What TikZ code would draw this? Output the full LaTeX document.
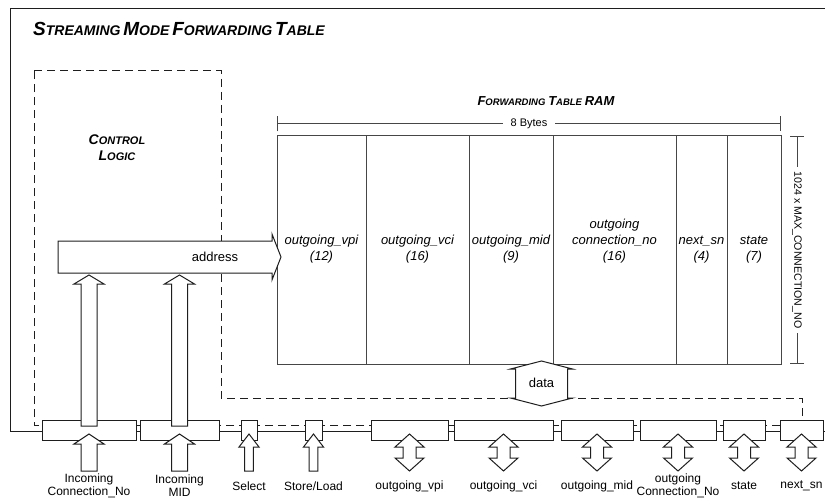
\documentclass[tikz,border=0pt]{standalone}
\usepackage{fontspec}
\setmainfont{Liberation Sans}
\usetikzlibrary{arrows.meta,positioning,calc}
\definecolor{LineDark}{RGB}{30,30,30}
\definecolor{LineGray}{RGB}{70,70,70}
\newcommand{\fakesc}[4]{{\fontsize{#1}{#1}\selectfont #3}{\fontsize{#2}{#2}\selectfont #4}}
\tikzset{
  frame/.style={draw=LineDark, line width=1pt},
  region/.style={draw=LineDark, line width=1pt, dash pattern=on 8pt off 5pt},
  reg/.style={draw=LineDark, fill=white, line width=1pt, minimum height=20pt,
              inner sep=0pt, outer sep=0pt},
  ramcol/.style={draw=LineGray, line width=1pt, minimum height=228pt,
                 inner sep=0pt, outer sep=0pt},
  coltext/.style={font=\fontsize{13}{16}\selectfont\itshape, align=center,
                  inner sep=0pt, anchor=south},
  heading/.style={font=\bfseries\itshape, inner sep=0pt},
  blk/.style={draw=LineDark, fill=white, line width=1pt, line join=miter},
  pinlabel/.style={font=\fontsize{12}{13}\selectfont, align=center, inner sep=0pt},
  dim/.style={draw=LineGray, line width=1pt},
  pics/uparrow/.style args={#1/#2/#3/#4}{code={
    \draw[blk] (0,0) -- (#3,#4) -- (#2,#4) -- (#2,#1) -- (-#2,#1) -- (-#2,#4)
      -- (-#3,#4) -- cycle;}},
  pics/dblarrow/.style args={#1/#2/#3/#4}{code={
    \draw[blk] (0,0) -- (#3,#4) -- (#2,#4) -- (#2,#1-#4) -- (#3,#1-#4) -- (0,#1)
      -- (-#3,#1-#4) -- (-#2,#1-#4) -- (-#2,#4) -- (-#3,#4) -- cycle;}},
}
\begin{document}
\begin{tikzpicture}[x=1pt, y=-1pt]
  \useasboundingbox (0,0) rectangle (825,500);

  % Frame and control region
  \draw[frame] (825,9) -- (10,9) -- (10,431) -- (825,431);
  \draw[region] (34,71) -- (221,71) -- (221,398) -- (802,398) -- (802,425)
    -- (34,425) -- cycle;
  \node[heading, anchor=base west] (title) at (33,36)
    {\fakesc{19}{14}{S}{TREAMING} \fakesc{19}{14}{M}{ODE} \fakesc{19}{14}{F}{ORWARDING} \fakesc{19}{14}{T}{ABLE}};
  \node[heading, align=center, font=\fontsize{14}{16}\selectfont\bfseries\itshape] (ctrl) at (117,148)
    {\fakesc{14}{11}{C}{ONTROL}\\\fakesc{14}{11}{L}{OGIC}};

  % Forwarding table RAM
  \node[heading, anchor=base] (ramtitle) at (546,106)
    {\fakesc{13}{9.5}{F}{ORWARDING} \fakesc{13}{9.5}{T}{ABLE} \fakesc{13}{13}{RAM}{}};
  \node[ramcol, minimum width=89pt, anchor=north west] (cvpi) at (277,136) {};
  \node[ramcol, minimum width=103pt, right=0pt of cvpi] (cvci) {};
  \node[ramcol, minimum width=84pt, right=0pt of cvci] (cmid) {};
  \node[ramcol, minimum width=123pt, right=0pt of cmid] (cconn) {};
  \node[ramcol, minimum width=51pt, right=0pt of cconn] (cnsn) {};
  \node[ramcol, minimum width=54pt, right=0pt of cnsn] (cstate) {};
  \node[coltext] (tvpi) at ($(cvpi.center)+(0,13)$) {outgoing\_vpi\\(12)};
  \node[coltext] (tvci) at ($(cvci.center)+(0,13)$) {outgoing\_vci\\(16)};
  \node[coltext] (tmid) at ($(cmid.center)+(0,13)$) {outgoing\_mid\\(9)};
  \node[coltext] (tconn) at ($(cconn.center)+(0,13)$) {outgoing\\connection\_no\\(16)};
  \node[coltext] (tnsn) at ($(cnsn.center)+(0,13)$) {next\_sn\\(4)};
  \node[coltext] (tstate) at ($(cstate.center)+(0,13)$) {state\\(7)};

  % Sizes
  \draw[dim, {Bar[width=15pt]}-{Bar[width=15pt]}]
    ($(cvpi.north west)+(0,-12)$) -- ($(cstate.north east)+(0,-12)$)
    node[midway, fill=white, inner xsep=8pt, inner ysep=1pt, font=\fontsize{11}{12}\selectfont] (bytes) {8 Bytes};
  \draw[dim, {Bar[width=14pt]}-{Bar[width=14pt]}]
    ($(cstate.north east)+(16,0)$) -- ($(cstate.south east)+(16,0)$)
    node[midway, rotate=-90, fill=white, inner xsep=5pt, inner ysep=1pt, font=\fontsize{10.6}{12}\selectfont] (rows) {1024 x MAX\_CONNECTION\_NO};

  % Registers
  \foreach \name/\cx/\w in {inconn/89/94pt, inmid/179.5/79pt, sel/249/16pt, stld/313.5/17pt,
      ovpi/409.5/77pt, ovci/503.5/99pt, omid/597/72pt, oconn/678/76pt, ostate/744/42pt, onsn/801.5/43pt}
    \node[reg, minimum width=\w] (\name) at (\cx,430) {};

  % Pins
  \foreach \name in {inconn, inmid} {
    \pic at ($(\name.south)+(0,-6)$) {uparrow=37/8/15/10};
    \pic at ($(\name.north)+(0,-145)$) {uparrow=151/8/15/9};
  }
  \foreach \name in {sel, stld}
    \pic at ($(\name.south)+(0,-6)$) {uparrow=37/4.3/10/13};
  \foreach \name in {ovpi, ovci, omid, oconn, ostate, onsn}
    \pic at ($(\name.south)+(0,-6)$) {dblarrow=37/6.5/14.5/13};
  \foreach \name/\txt in {inconn/{Incoming\\Connection\_No}, inmid/{Incoming\\MID}, sel/Select,
      stld/{Store/Load}, ovpi/outgoing\_vpi, ovci/outgoing\_vci, omid/outgoing\_mid,
      oconn/{outgoing\\Connection\_No}, ostate/state, onsn/next\_sn}
    \node[pinlabel] (l\name) at ($(\name.south)+(0,46)$) {\txt};

  % Address and data
  \draw[blk] (58,241) -- (272,241) -- (272,234) -- (281,257) -- (272,280) -- (272,273)
    -- (58,273) -- cycle;
  \node[font=\fontsize{13}{15}\selectfont, inner sep=0pt] (addr) at (215,257) {address};
  \pic at (541.5,361) {dblarrow=45/26/31/8};
  \node[font=\fontsize{13}{15}\selectfont, inner sep=0pt] (data) at (541.5,383) {data};
\end{tikzpicture}
\end{document}
